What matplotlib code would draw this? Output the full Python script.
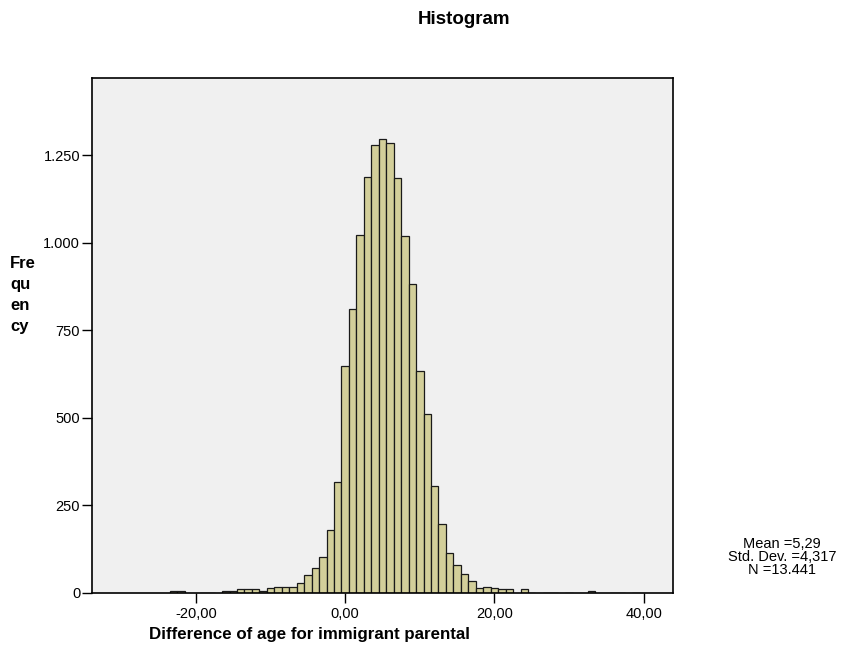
import matplotlib
matplotlib.use("Agg")
import matplotlib.pyplot as plt
from matplotlib.ticker import FixedLocator

plt.rcParams["font.family"] = ["Liberation Sans", "DejaVu Sans"]

# histogram bins (1-unit width, centred on integers) and their counts
bin_centers = [-23, -22, -19, -18, -16, -15, -14, -13, -12, -11, -10, -9, -8, -7,
               -6, -5, -4, -3, -2, -1, 0, 1, 2, 3, 4, 5, 6, 7, 8, 9, 10, 11, 12,
               13, 14, 15, 16, 17, 18, 19, 20, 21, 22, 24, 25, 27, 28, 30, 33,
               36, 37, 39]
counts = [5, 5, 1, 1, 6, 6, 10, 10, 10, 5, 14, 17, 17, 17,
          29, 51, 71, 102, 181, 318, 648, 812, 1021, 1188, 1280, 1297, 1285, 1184, 1018, 883, 634, 512, 305,
          197, 113, 80, 54, 33, 13, 17, 13, 10, 10, 10, 1, 1, 1, 1, 5,
          1, 1, 1]

x_ticks = [-20, 0, 20, 40]
x_ticklabels = ["-20,00", "0,00", "20,00", "40,00"]
y_ticks = [0, 250, 500, 750, 1000, 1250]
y_ticklabels = ["0", "250", "500", "750", "1.000", "1.250"]

stats_text = "Mean =5,29\nStd. Dev. =4,317\nN =13.441"

W, H = 847, 653
fig = plt.figure(figsize=(W / 100, H / 100), dpi=100)
fig.patch.set_facecolor("white")

left, right, top, bottom = 92, 673, 78, 593
ax = fig.add_axes([left / W, 1 - bottom / H, (right - left) / W, (bottom - top) / H])
ax.set_facecolor("#F0F0F0")

ax.bar(bin_centers, counts, width=1.0, color="#D3CF9A", edgecolor="#1a1a1a",
       linewidth=0.9, zorder=2)

ax.set_xlim(-33.93, 43.93)
ax.set_ylim(0, 1470)

ax.xaxis.set_major_locator(FixedLocator(x_ticks))
ax.set_xticklabels(x_ticklabels)
ax.yaxis.set_major_locator(FixedLocator(y_ticks))
ax.set_yticklabels(y_ticklabels)
ax.tick_params(axis="both", direction="out", length=7.5, width=1, color="black",
               labelsize=10.5, pad=1)
ax.tick_params(axis="x", pad=2.5)

for s in ax.spines.values():
    s.set_color("black")
    s.set_linewidth(1.2)

fig.text(464 / W, 1 - 19 / H, "Histogram", ha="center", va="center",
         fontsize=13.5, fontweight="bold")
fig.text(309 / W, 1 - 634 / H, "Difference of age for immigrant parental",
         ha="center", va="center", fontsize=12.2, fontweight="bold")
fig.text(10 / W, 1 - 295 / H, "Fre\nqu\nen\ncy", ha="left", va="center",
         fontsize=12, fontweight="bold", linespacing=1.5)
fig.text(782 / W, 1 - 557 / H, stats_text, ha="center", va="center",
         fontsize=10.5, linespacing=0.95)

fig.savefig("out.png", dpi=100)
